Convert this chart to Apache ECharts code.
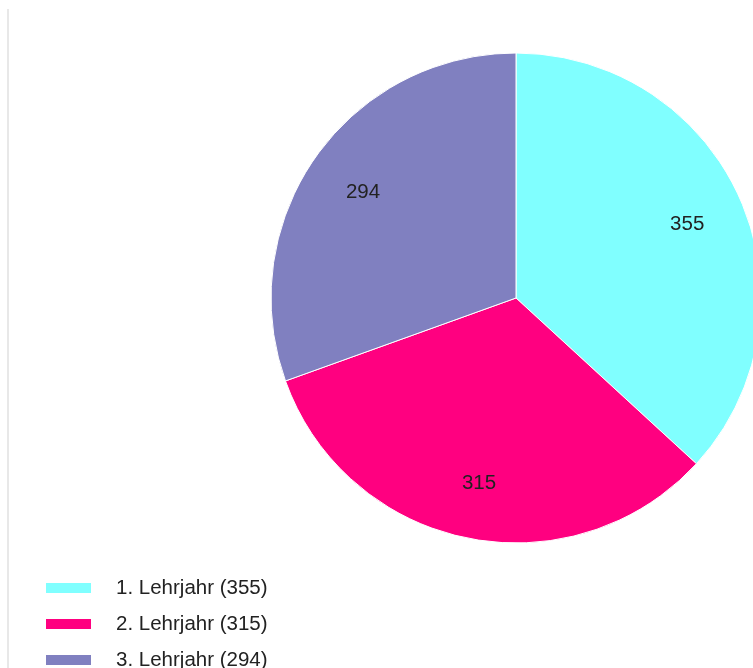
<!DOCTYPE html>
<html>
<head>
<meta charset="utf-8">
<script src="https://cdn.jsdelivr.net/npm/echarts@6/dist/echarts.min.js"></script>
<style>
html,body{margin:0;padding:0;background:#fff;}
#chart{width:753px;height:668px;}
</style>
</head>
<body>
<div id="chart"></div>
<script>
const categories = ['1. Lehrjahr', '2. Lehrjahr', '3. Lehrjahr'];
const values = [355, 315, 294];
const colors = ['#80FFFF', '#FF0080', '#8080C0'];

const chart = echarts.init(document.getElementById('chart'), null, {renderer: 'canvas'});
const data = categories.map((c, i) => ({name: c, value: values[i], itemStyle: {color: colors[i]}}));
const lookup = {};
categories.forEach((c, i) => lookup[c] = values[i]);

chart.setOption({
  animation: false,
  graphic: [{
    type: 'rect',
    shape: {x: 7, y: 9, width: 2, height: 670},
    style: {fill: '#e8e8e8'},
    silent: true
  }],
  legend: {
    orient: 'vertical',
    left: 44,
    top: 577,
    height: 300,
    padding: 0,
    itemWidth: 47,
    itemHeight: 12,
    itemGap: 14,
    icon: 'rect',
    data: categories,
    selectedMode: false,
    formatter: n => n + ' (' + lookup[n] + ')',
    textStyle: {
      fontFamily: 'Liberation Sans, Arial, sans-serif',
      fontSize: 20.5,
      lineHeight: 22,
      color: '#222',
      padding: [0, 0, 0, 19]
    }
  },
  series: [{
    type: 'pie',
    center: [516, 298],
    radius: [0, 245],
    startAngle: 90,
    clockwise: true,
    silent: true,
    label: {show: false},
    labelLine: {show: false},
    itemStyle: {borderColor: '#ffffff', borderWidth: 1},
    data: data
  }, {
    type: 'pie',
    center: [516, 300],
    radius: [123, 245],
    startAngle: 90,
    clockwise: true,
    silent: true,
    itemStyle: {color: 'rgba(0,0,0,0)', borderWidth: 0},
    label: {
      show: true,
      position: 'inside',
      formatter: p => String(p.value),
      fontFamily: 'Liberation Sans, Arial, sans-serif',
      fontSize: 20.5,
      color: '#222'
    },
    labelLine: {show: false},
    data: categories.map((c, i) => ({name: c, value: values[i]}))
  }]
});
</script>
</body>
</html>
